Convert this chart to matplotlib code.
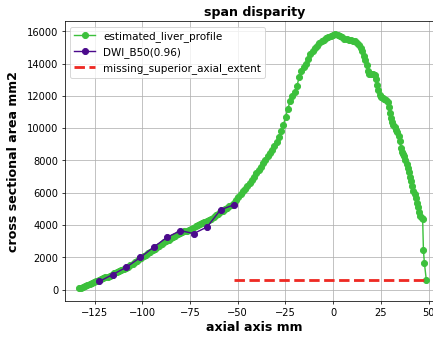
import numpy as np
import matplotlib
matplotlib.use("Agg")
import matplotlib.pyplot as plt

# liver cross sectional area along the axial axis
liver_x = [-133.4, -132.3, -131.1, -129.9, -128.7, -127.5, -126.4, -125.2, -124.0, -122.8,
           -121.6, -120.5, -119.3, -118.1, -116.9, -115.7, -114.6, -113.4, -112.2, -111.0,
           -109.8, -108.7, -107.5, -106.3, -105.1, -103.9, -102.8, -101.6, -100.4, -99.2,
           -98.0, -96.9, -95.7, -94.5, -93.3, -92.1, -91.0, -89.8, -88.6, -87.4,
           -86.2, -85.1, -83.9, -82.7, -81.5, -80.3, -79.2, -78.0, -76.8, -75.6,
           -74.4, -73.3, -72.1, -70.9, -69.7, -68.5, -67.4, -66.2, -65.0, -63.8,
           -62.6, -61.5, -60.3, -59.1, -57.9, -56.7, -55.6, -54.4, -53.2, -52.0,
           -50.8, -49.7, -48.5, -47.3, -46.1, -44.9, -43.8, -42.6, -41.4, -40.2,
           -39.0, -37.9, -36.7, -35.5, -34.3, -33.1, -32.0, -30.8, -29.6, -28.4,
           -27.2, -26.1, -24.9, -23.7, -22.5, -21.3, -20.2, -19.0, -17.8, -16.6,
           -15.4, -14.3, -13.1, -11.9, -10.7, -9.5, -8.4, -7.2, -6.0, -4.8,
           -3.6, -2.5, -1.3, -0.1, 1.1, 2.3, 3.4, 4.6, 5.8, 7.0,
           8.2, 9.3, 10.5, 11.7, 12.7, 13.6, 14.4, 15.2, 16.0, 16.8,
           17.5, 18.2, 19.0, 19.9, 20.8, 21.7, 22.4, 23.0, 23.6, 24.3,
           25.1, 26.0, 26.9, 27.8, 28.5, 29.1, 29.7, 30.3, 30.9, 31.6,
           32.3, 33.0, 33.7, 34.3, 34.9, 35.5, 36.1, 36.7, 37.3, 37.9,
           38.5, 39.1, 39.7, 40.3, 40.9, 41.5, 42.1, 42.7, 43.3, 43.9,
           44.5, 45.1, 45.7, 46.3, 46.9, 47.3, 47.8, 48.8]
liver_area = [90, 120, 170, 230, 290, 330, 390, 440, 500, 560,
              630, 690, 750, 800, 860, 930, 1000, 1070, 1130, 1190,
              1260, 1330, 1420, 1510, 1590, 1690, 1770, 1870, 1960, 2050,
              2150, 2240, 2330, 2440, 2530, 2620, 2720, 2830, 2930, 3020,
              3100, 3170, 3260, 3340, 3420, 3490, 3540, 3600, 3650, 3700,
              3760, 3840, 3930, 4010, 4060, 4110, 4160, 4230, 4310, 4400,
              4500, 4600, 4700, 4800, 4890, 4980, 5070, 5160, 5260, 5380,
              5550, 5750, 5920, 6090, 6250, 6430, 6620, 6800, 7000, 7200,
              7400, 7600, 7850, 8050, 8250, 8450, 8650, 8900, 9150, 9450,
              9800, 10200, 10700, 11200, 11700, 12000, 12250, 12600, 13150, 13550,
              13800, 14000, 14300, 14600, 14800, 14950, 15100, 15250, 15380, 15480,
              15560, 15650, 15720, 15760, 15830, 15780, 15680, 15620, 15530, 15500,
              15470, 15450, 15430, 15420, 15300, 15150, 14950, 14750, 14500, 14200,
              13900, 13550, 13350, 13330, 13350, 13300, 13050, 12700, 12350, 12050,
              11900, 11850, 11800, 11750, 11650, 11300, 10950, 10600, 10350, 10200,
              10050, 9900, 9750, 9500, 9200, 8800, 8550, 8400, 8250, 8050,
              7800, 7550, 7300, 7000, 6700, 6400, 6100, 5900, 5650, 5350,
              5100, 4800, 4550, 4450, 4350, 2450, 1650, 600]

# DWI b50 segmentation, dice 0.96
dwi_x = [-122.5, -115.5, -108.5, -101.0, -94.0, -87.0, -80.0, -73.0, -66.0, -59.0, -52.0]
dwi_area = [500, 930, 1370, 1990, 2630, 3240, 3650, 3470, 3880, 4940, 5250]

# superior extent not covered by the DWI volume
missing_x = [-52.0, 48.8]
missing_area = [600, 600]

fig = plt.figure(figsize=(6.4, 5.0), dpi=67.66)
ax = fig.add_axes([0.150, 0.110, 0.875, 0.826])

ax.plot(liver_x, liver_area, marker='o', markersize=6.5, color='#3cc03c',
        label='estimated_liver_profile')
ax.plot(dwi_x, dwi_area, marker='o', markersize=6.5, color='#4b0a8c', label='DWI_B50(0.96)')
ax.plot(missing_x, missing_area, '--', color='#ee2a24', linewidth=3,
        label='missing_superior_axial_extent')

ax.set_xlim(-140.5, 58)
ax.set_xticks([-125, -100, -75, -50, -25, 0, 25, 50])
ax.tick_params(labelsize=10.5)
ax.grid(True)
ax.set_title('span disparity', fontsize=13.5, fontweight='bold')
ax.set_xlabel('axial axis mm', fontsize=13.5, fontweight='bold')
ax.set_ylabel('cross sectional area mm2', fontsize=13.5, fontweight='bold', labelpad=7)
ax.legend(loc='upper left', fontsize=11)

fig.savefig('out.png', dpi=67.66)
